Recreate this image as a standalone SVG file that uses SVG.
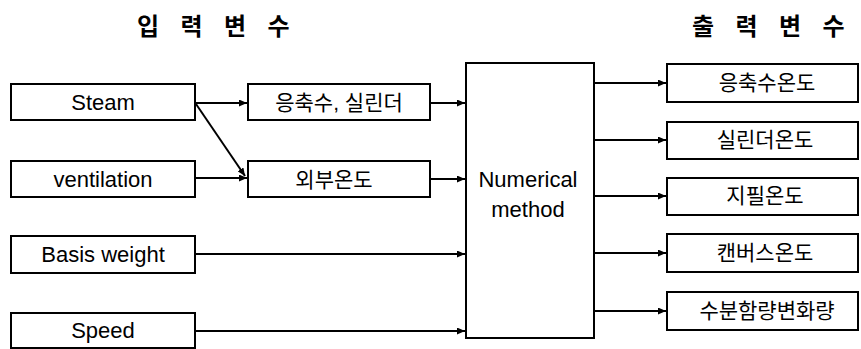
<svg xmlns="http://www.w3.org/2000/svg" width="861" height="349" viewBox="0 0 861 349">
<style>
.box{fill:#fff;stroke:#000;stroke-width:2}
.t{font-family:"Liberation Sans",Arial,sans-serif;font-size:22px;fill:#000;text-anchor:middle}
.k{font-family:"Liberation Sans","Noto Sans CJK KR",sans-serif;font-size:21px;fill:#000;text-anchor:middle}
.h{font-family:"Noto Sans CJK KR",sans-serif;font-size:24px;font-weight:bold;fill:#000;letter-spacing:8px}
.c{fill:none;stroke:#000;stroke-width:2}
</style>
<defs>
<marker id="ah" viewBox="0 0 8 7" refX="8" refY="3.5" markerWidth="8" markerHeight="7" markerUnits="userSpaceOnUse" orient="auto">
<path d="M0,0 L8,3.5 L0,7 Z" fill="#000"/>
</marker>
</defs>
<rect width="861" height="349" fill="#fff"/>
<text class="h" x="137" y="35">입 력 변 수</text>
<text class="h" x="692" y="35">출 력 변 수</text>
<g id="connectors">
<path class="c" d="M195,103 H247" marker-end="url(#ah)"/>
<path class="c" d="M196,104 L245,176" marker-end="url(#ah)"/>
<path class="c" d="M195,178 H247" marker-end="url(#ah)"/>
<path class="c" d="M430,103 H465" marker-end="url(#ah)"/>
<path class="c" d="M430,179 H465" marker-end="url(#ah)"/>
<path class="c" d="M195,254 H465" marker-end="url(#ah)"/>
<path class="c" d="M195,331 H465" marker-end="url(#ah)"/>
<path class="c" d="M594,83 H666" marker-end="url(#ah)"/>
<path class="c" d="M594,140 H666" marker-end="url(#ah)"/>
<path class="c" d="M594,196 H666" marker-end="url(#ah)"/>
<path class="c" d="M594,253 H666" marker-end="url(#ah)"/>
<path class="c" d="M594,311 H666" marker-end="url(#ah)"/>
</g>
<g id="steam"><rect class="box" x="11" y="84" width="184" height="36"/><text class="t" x="103" y="110">Steam</text></g>
<g id="ventilation"><rect class="box" x="11" y="161" width="184" height="36"/><text class="t" x="103" y="187">ventilation</text></g>
<g id="basis"><rect class="box" x="11" y="236" width="184" height="37"/><text class="t" x="103" y="262">Basis weight</text></g>
<g id="speed"><rect class="box" x="11" y="313" width="184" height="35"/><text class="t" x="103" y="338">Speed</text></g>
<g id="cond-cyl"><rect class="box" x="248" y="84" width="182" height="36"/><text class="k" x="339" y="110">응축수, 실린더</text></g>
<g id="outside"><rect class="box" x="248" y="161" width="182" height="36"/><text class="k" x="334" y="187">외부온도</text></g>
<g id="numerical"><rect class="box" x="466" y="63" width="128" height="275"/><text class="t" x="528" y="187">Numerical</text><text class="t" x="528" y="217">method</text></g>
<g id="out1"><rect class="box" x="667" y="64" width="191" height="38"/><text class="k" x="767" y="90">응축수온도</text></g>
<g id="out2"><rect class="box" x="667" y="122" width="191" height="37"/><text class="k" x="765" y="147">실린더온도</text></g>
<g id="out3"><rect class="box" x="667" y="178" width="191" height="37"/><text class="k" x="765" y="203">지필온도</text></g>
<g id="out4"><rect class="box" x="667" y="234" width="191" height="38"/><text class="k" x="765" y="260">캔버스온도</text></g>
<g id="out5"><rect class="box" x="667" y="292" width="191" height="38"/><text class="k" x="767" y="318">수분함량변화량</text></g>
</svg>
